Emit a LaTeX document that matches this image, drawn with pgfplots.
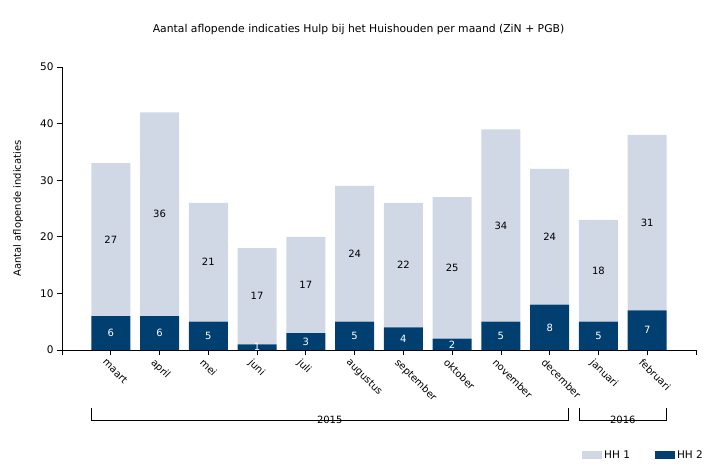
\documentclass[border=0pt]{standalone}
\usepackage{fontspec}
\setmainfont{DejaVu Sans}
\usepackage{pgfplots}
\pgfplotsset{compat=1.18}
\definecolor{hhone}{RGB}{208,216,230}
\definecolor{hhtwo}{RGB}{0,63,112}
\begin{document}
\begin{tikzpicture}
\useasboundingbox (-62bp,-118bp) rectangle (657bp,350bp);
\begin{axis}[
  scale only axis,
  width=634bp, height=283bp,
  at={(0,0)}, anchor=south west,
  ybar stacked,
  bar width=39bp,
  xmin=-1, xmax=12,
  ymin=0, ymax=50,
  ytick={0,10,20,30,40,50},
  xtick={-1,0,1,2,3,4,5,6,7,8,9,10,11,12},
  xticklabels={,maart,april,mei,juni,juli,augustus,september,oktober,november,december,januari,februari,},
  axis x line*=bottom,
  axis y line*=left,
  axis line style={-, line width=0.8pt},
  tick align=outside,
  major tick length=5bp,
  tick style={black, line width=0.8pt},
  x tick label style={rotate=-45, anchor=north west, font=\fontsize{10bp}{12bp}\selectfont, xshift=-4bp, yshift=-1bp},
  y tick label style={font=\fontsize{10.5bp}{12bp}\selectfont},
  /pgf/number format/assume math mode=true,
  ylabel={Aantal aflopende indicaties},
  ylabel style={at={(axis description cs:-0.0694,0.5)}, anchor=center, font=\fontsize{10bp}{12bp}\selectfont},
  clip=false,
  nodes near coords,
  every node near coord/.append style={anchor=center, font=\fontsize{10bp}{12bp}\selectfont},
  legend style={at={(axis description cs:0.8155,-0.371)}, anchor=west, draw=none, fill=none, legend columns=2,
    font=\fontsize{10.5bp}{12bp}\selectfont, /tikz/every even column/.append style={column sep=23bp}},
  legend cell align=left,
  reverse legend,
]
\addplot[fill=hhtwo, draw=none, every node near coord/.append style={text=white},
  legend image code/.code={\path[fill=hhtwo] (0bp,-4bp) rectangle (20bp,4bp);}]
  coordinates {(0,6) (1,6) (2,5) (3,1) (4,3) (5,5) (6,4) (7,2) (8,5) (9,8) (10,5) (11,7)};
\addlegendentry{HH 2}
\addplot[fill=hhone, draw=none, every node near coord/.append style={text=black},
  legend image code/.code={\path[fill=hhone] (0bp,-4bp) rectangle (20bp,4bp);}]
  coordinates {(0,27) (1,36) (2,21) (3,17) (4,17) (5,24) (6,22) (7,25) (8,34) (9,24) (10,18) (11,31)};
\addlegendentry{HH 1}
\draw[line width=0.8pt] (axis cs:-0.4,-10.2) -- (axis cs:-0.4,-12.4) -- (axis cs:9.38,-12.4) -- (axis cs:9.38,-10.2);
\node[fill=white, inner sep=1pt, font=\fontsize{10bp}{12bp}\selectfont] at (axis cs:4.49,-12.4) {2015};
\draw[line width=0.8pt] (axis cs:9.6,-10.2) -- (axis cs:9.6,-12.4) -- (axis cs:11.4,-12.4) -- (axis cs:11.4,-10.2);
\node[fill=white, inner sep=1pt, font=\fontsize{10bp}{12bp}\selectfont] at (axis cs:10.5,-12.4) {2016};
\end{axis}
\node[font=\fontsize{10.8bp}{13bp}\selectfont] at (296.5bp,320bp) {Aantal aflopende indicaties Hulp bij het Huishouden per maand (ZiN + PGB)};
\end{tikzpicture}
\end{document}
